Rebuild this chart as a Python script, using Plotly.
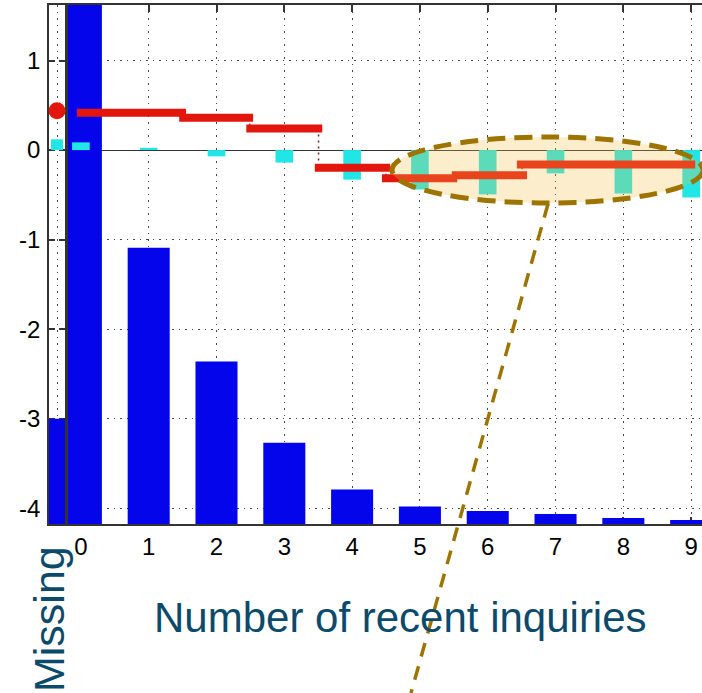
import plotly.graph_objects as go

# ---------------- data ----------------
categories = [0, 1, 2, 3, 4, 5, 6, 7, 8, 9]
tick_labels = ["0", "1", "2", "3", "4", "5", "6", "7", "8", "9"]

# blue bars (top of each bar in the chart's y units)
blue_top = [1.8, -1.09, -2.36, -3.27, -3.79, -3.98, -4.03, -4.065, -4.11, -4.13]
blue_missing = -3.0

# cyan bars
cyan_vals = [0.086, 0.025, -0.07, -0.14, -0.33, -0.44, -0.495, -0.26, -0.485, -0.53]
cyan_missing = 0.12

# red step function (bin start, bin end, level)
red_x0 = [-0.06, 1.45, 2.44, 3.45, 4.44, 5.47, 6.43]
red_x1 = [1.55, 2.54, 3.56, 4.56, 5.55, 6.58, 9.06]
red_y = [0.418, 0.362, 0.24, -0.197, -0.315, -0.28, -0.16]
red_missing = 0.44

y_ticks = [1, 0, -1, -2, -3, -4]
y_tick_labels = ["1", "0", "-1", "-2", "-3", "-4"]

Y_MIN, Y_MAX = -4.176, 1.62
X_MIN, X_MAX = -0.19, 9.16

W, H = 702, 693


def px(x):
    return x / W


def py(y):
    return 1 - y / H


BLUE = "#0505EC"
CYAN = "#22E6E6"
RED = "#E3160E"
GOLD = "#9E7400"
TEAL = "#0B4A6B"
FRAME = "#333333"
FONT = "Liberation Sans, Arial, sans-serif"

fig = go.Figure()

# ---- missing panel ----
fig.add_trace(go.Bar(x=[0], y=[blue_missing - Y_MIN], base=Y_MIN, width=1.0,
                     marker=dict(color=BLUE, line=dict(width=0)),
                     xaxis="x", yaxis="y", showlegend=False))
fig.add_trace(go.Bar(x=[0], y=[cyan_missing], width=0.75,
                     marker=dict(color=CYAN, line=dict(width=0)),
                     xaxis="x", yaxis="y", showlegend=False))
fig.add_trace(go.Scatter(x=[0], y=[red_missing], mode="markers",
                         marker=dict(color=RED, size=17),
                         cliponaxis=False, xaxis="x", yaxis="y", showlegend=False))

# ---- main panel ----
fig.add_trace(go.Bar(x=categories, y=[t - Y_MIN for t in blue_top], base=Y_MIN,
                     width=0.62, marker=dict(color=BLUE, line=dict(width=0)),
                     xaxis="x2", yaxis="y2", showlegend=False))
fig.add_trace(go.Bar(x=categories, y=cyan_vals, width=0.26,
                     marker=dict(color=CYAN, line=dict(width=0)),
                     xaxis="x2", yaxis="y2", showlegend=False))

# dotted connectors between steps
cx, cy = [], []
for i in range(len(red_y) - 1):
    xm = (red_x1[i] + red_x0[i + 1]) / 2
    cx += [xm, xm, None]
    cy += [red_y[i], red_y[i + 1], None]
fig.add_trace(go.Scatter(x=cx, y=cy, mode="lines",
                         line=dict(color="#7A1E1E", width=1.5, dash="2px,4px"),
                         xaxis="x2", yaxis="y2", showlegend=False))

sx, sy = [], []
for a, b, v in zip(red_x0, red_x1, red_y):
    sx += [a, b, None]
    sy += [v, v, None]
fig.add_trace(go.Scatter(x=sx, y=sy, mode="lines",
                         line=dict(color=RED, width=8),
                         xaxis="x2", yaxis="y2", showlegend=False))

ydom = [py(524), py(5)]
grid = dict(showgrid=True, gridcolor="#444444", gridwidth=1, griddash="1.5px,5px")
TICKFONT = dict(size=24, color="black", family=FONT)

fig.update_layout(
    width=W, height=H,
    margin=dict(l=0, r=0, t=0, b=0),
    paper_bgcolor="white", plot_bgcolor="white",
    barmode="overlay",
    font=dict(family=FONT, color="black", size=24),
    xaxis=dict(domain=[px(49), px(65)], range=[-0.5, 0.5], anchor="y",
               tickvals=[0], showticklabels=False, ticks="",
               showline=True, linecolor=FRAME, linewidth=1.5, mirror=True,
               zeroline=False, layer="below traces", **grid),
    yaxis=dict(domain=ydom, range=[Y_MIN, Y_MAX], anchor="x",
               tickvals=y_ticks, ticktext=y_tick_labels,
               ticks="inside", ticklen=6, tickcolor=FRAME, tickwidth=1.5,
               showline=True, linecolor=FRAME, linewidth=1.5, mirror="ticks",
               showgrid=False, zeroline=False, ticklabelstandoff=2,
               tickfont=TICKFONT, layer="below traces"),
    xaxis2=dict(domain=[px(68), 1.0], range=[X_MIN, X_MAX], anchor="y2",
                tickvals=categories, ticktext=tick_labels,
                ticks="inside", ticklen=7, tickcolor=FRAME, tickwidth=1.5,
                showline=True, linecolor=FRAME, linewidth=1.5, mirror="ticks",
                zeroline=False, ticklabelstandoff=0,
                tickfont=TICKFONT, layer="below traces", **grid),
    yaxis2=dict(domain=ydom, range=[Y_MIN, Y_MAX], anchor="x2", matches="y",
                tickvals=y_ticks, showticklabels=False, ticks="",
                showline=True, linecolor=FRAME, linewidth=1.5, mirror=False,
                zeroline=True, zerolinecolor=FRAME, zerolinewidth=1.2,
                layer="below traces", **grid),
)

# highlight ellipse and pointer line
fig.add_shape(type="circle", xref="paper", yref="paper",
              x0=px(392), x1=px(703), y0=py(203), y1=py(137),
              fillcolor="rgba(245,192,72,0.28)",
              line=dict(color=GOLD, width=5, dash="18px,9px"), layer="above")
fig.add_shape(type="line", xref="paper", yref="paper",
              x0=px(548), y0=py(204), x1=px(411), y1=py(693),
              line=dict(color=GOLD, width=3.5, dash="14px,10px"), layer="above")

fig.add_annotation(text="Number of recent inquiries", xref="paper", yref="paper",
                   x=px(400), y=py(617), xanchor="center", yanchor="middle",
                   showarrow=False, font=dict(family=FONT, size=42, color=TEAL))
fig.add_annotation(text="Missing", xref="paper", yref="paper",
                   x=px(49), y=py(619), xanchor="center", yanchor="middle",
                   textangle=-90, showarrow=False,
                   font=dict(family=FONT, size=43, color=TEAL))

fig.write_html("out.html",
               config={"displayModeBar": False},
               post_script="document.body.style.margin='0';"
                           "document.body.style.padding='0';"
                           "document.body.style.overflow='hidden';")
